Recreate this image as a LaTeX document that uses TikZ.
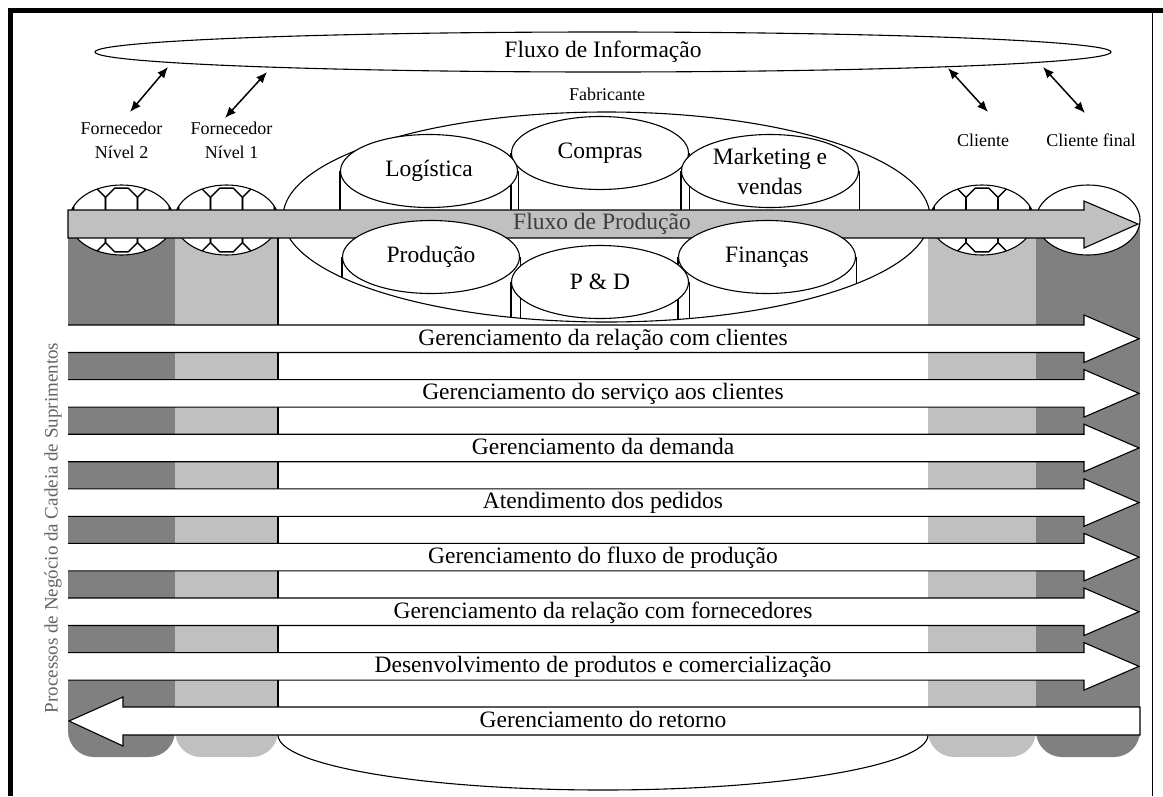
\documentclass[tikz,border=0pt]{standalone}
\usepackage{fontspec}
\setmainfont{Liberation Serif}
\usetikzlibrary{shapes.geometric,arrows.meta}
\definecolor{darkcol}{RGB}{128,128,128}
\definecolor{lightcol}{RGB}{192,192,192}
\definecolor{labelgray}{RGB}{100,100,100}
\definecolor{flowtext}{RGB}{60,60,60}
\begin{document}
\begin{tikzpicture}[x=1pt,y=-1pt,
  outline/.style={draw=black,line width=1.1pt},
  big/.style={font=\fontsize{23.5}{30}\selectfont},
  small/.style={font=\fontsize{18}{24}\selectfont,align=center},
  cylcap/.style={ellipse,draw=black,line width=1.1pt,fill=white,
    minimum width=177pt,minimum height=73pt,inner sep=0pt,big,align=center},
  side/.style={draw=black,line width=1.1pt},
  dbl/.style={{Latex[length=11pt,width=9pt]}-{Latex[length=11pt,width=9pt]},line width=1.5pt},
  net/.pic={
    \begin{scope}
      \clip (0,0) ellipse [x radius=52pt,y radius=35pt];
      \fill[white] (-60,-40) rectangle (60,40);
      \foreach \dx in {-64,-32,0,32,64}
        \foreach \dy in {-16,16}
          \draw[line width=1.5pt] (\dx,\dy) +(22.5:17.3pt) -- +(67.5:17.3pt)
            -- +(112.5:17.3pt) -- +(157.5:17.3pt) -- +(202.5:17.3pt)
            -- +(247.5:17.3pt) -- +(292.5:17.3pt) -- +(337.5:17.3pt) -- cycle;
    \end{scope}
    \draw[line width=1.1pt] (0,0) ellipse [x radius=52pt,y radius=35pt];
  }
]
\useasboundingbox (0,0) rectangle (1163,796);

% frame
\draw[line width=5pt] (8,10.5) -- (1163,10.5);
\draw[line width=5pt] (10.5,8) -- (10.5,796);
\draw[line width=0.8pt] (1152,10) -- (1152,796);

% columns of the chain members
\fill[darkcol] (68,220) rectangle (175,730);
\fill[darkcol,rounded corners=26pt] (68,690) rectangle (175,757);
\fill[lightcol] (175,220) rectangle (278,730);
\fill[lightcol,rounded corners=26pt] (175,690) rectangle (278,757);
\fill[lightcol] (928,220) rectangle (1036,730);
\fill[lightcol,rounded corners=26pt] (928,690) rectangle (1036,757);
\fill[darkcol] (1036,220) rectangle (1140,730);
\fill[darkcol,rounded corners=26pt] (1036,690) rectangle (1140,757);

% manufacturer cylinder
\draw[line width=1.1pt] (606.5,217) ellipse [x radius=323.5pt,y radius=105pt];
\draw[line width=1.1pt] (278,735) arc [start angle=180,end angle=360,x radius=325pt,y radius=55pt];
\draw[side] (278,237) -- (278,735);
\coordinate (bartop) at (0,210);

% upper department cylinders
\node[cylcap] (comp) at (600,153) {Compras};
\draw[side] (comp.west) -- (comp.west |- bartop);
\draw[side] (comp.east) -- (comp.east |- bartop);
\node[cylcap] (log) at (429,171) {Logística};
\draw[side] (log.west) -- (log.west |- bartop);
\draw[side] (log.east) -- (log.east |- bartop);
\node[cylcap] (mkt) at (770,171) {Marketing e\\vendas};
\draw[side] (mkt.west) -- (mkt.west |- bartop);
\draw[side] (mkt.east) -- (mkt.east |- bartop);

% supplier and customer tops
\pic at (121.5,220) {net};
\pic at (226.5,220) {net};
\pic at (982,220) {net};
\draw[line width=1.1pt,fill=white] (1088,220) ellipse [x radius=52pt,y radius=35pt];

% production flow
\draw[outline,fill=lightcol] (68,210) -- (1084,210) -- (1084,201) -- (1138,224)
  -- (1084,248) -- (1084,238) -- (68,238) -- cycle;
\node[big,text=flowtext] (fprod) at (602,224) {Fluxo de Produção};

% lower department cylinders
\coordinate (deep) at (0,340);
\node[cylcap] (prod) at (431,257) {Produção};
\begin{scope}
  \clip (606.5,217) ellipse [x radius=323.5pt,y radius=105pt];
  \draw[side] (prod.west) -- (prod.west |- deep);
  \draw[side] (prod.east) -- (prod.east |- deep);
\end{scope}
\node[cylcap] (fin) at (767,257) {Finanças};
\begin{scope}
  \clip (606.5,217) ellipse [x radius=323.5pt,y radius=105pt];
  \draw[side] (fin.west) -- (fin.west |- deep);
  \draw[side] (fin.east) -- (fin.east |- deep);
\end{scope}
\node[cylcap] (pd) at (600,282) {P \& D};
\begin{scope}
  \clip (606.5,217) ellipse [x radius=323.5pt,y radius=105pt];
  \draw[side] (pd.west) -- (pd.west |- deep);
  \draw[side] (pd.east) -- (pd.east |- deep);
\end{scope}

% business processes
\foreach \i/\lab in {
  0/{Gerenciamento da relação com clientes},
  1/{Gerenciamento do serviço aos clientes},
  2/{Gerenciamento da demanda},
  3/{Atendimento dos pedidos},
  4/{Gerenciamento do fluxo de produção},
  5/{Gerenciamento da relação com fornecedores},
  6/{Desenvolvimento de produtos e comercialização}} {
  \pgfmathsetmacro\ta{325+54.6*\i}
  \pgfmathsetmacro\tb{\ta+27.5}
  \pgfmathsetmacro\tm{\ta+13.75}
  \fill[white] (68,\ta) -- (1084,\ta) -- (1084,\ta-10) -- (1139,\tm)
    -- (1084,\tb+10) -- (1084,\tb) -- (68,\tb) -- cycle;
  \draw[outline] (68,\ta) -- (1084,\ta) -- (1084,\ta-10) -- (1139,\tm)
    -- (1084,\tb+10) -- (1084,\tb) -- (68,\tb);
  \node[big,anchor=base] (proc\i) at (603,\tb-7.5) {\lab};
}
% returns flow, pointing back upstream
\fill[white] (1140,707) -- (123,707) -- (123,697) -- (69,721) -- (123,746)
  -- (123,735) -- (1140,735) -- cycle;
\draw[outline] (1140,707) -- (123,707) -- (123,697) -- (69,721) -- (123,746)
  -- (123,735) -- (1140,735) -- cycle;
\node[big,anchor=base] (ret) at (603,727) {Gerenciamento do retorno};

\node[font=\fontsize{19}{22}\selectfont,text=labelgray,rotate=90] (proclab) at (53,528)
  {Processos de Negócio da Cadeia de Suprimentos};

% information flow
\node[ellipse,draw=black,line width=1.1pt,minimum width=1016pt,minimum height=40pt,
  inner sep=0pt,big] (info) at (603,52) {Fluxo de Informação};
\node[small] (fab) at (607,94) {Fabricante};
\node[small] (forn2) at (121.5,140) {Fornecedor\\Nível 2};
\node[small] (forn1) at (231.5,140) {Fornecedor\\Nível 1};
\node[small] (cli) at (983,140) {Cliente};
\node[small] (clif) at (1091,140) {Cliente final};

\coordinate (i1) at (168,67);  \coordinate (e1) at (130,112);
\coordinate (i2) at (267,72);  \coordinate (e2) at (225,118);
\coordinate (i3) at (948,68);  \coordinate (e3) at (988,112);
\coordinate (i4) at (1043,67); \coordinate (e4) at (1085,113);
\draw[dbl] (i1) -- (e1);
\draw[dbl] (i2) -- (e2);
\draw[dbl] (i3) -- (e3);
\draw[dbl] (i4) -- (e4);
\end{tikzpicture}
\end{document}
